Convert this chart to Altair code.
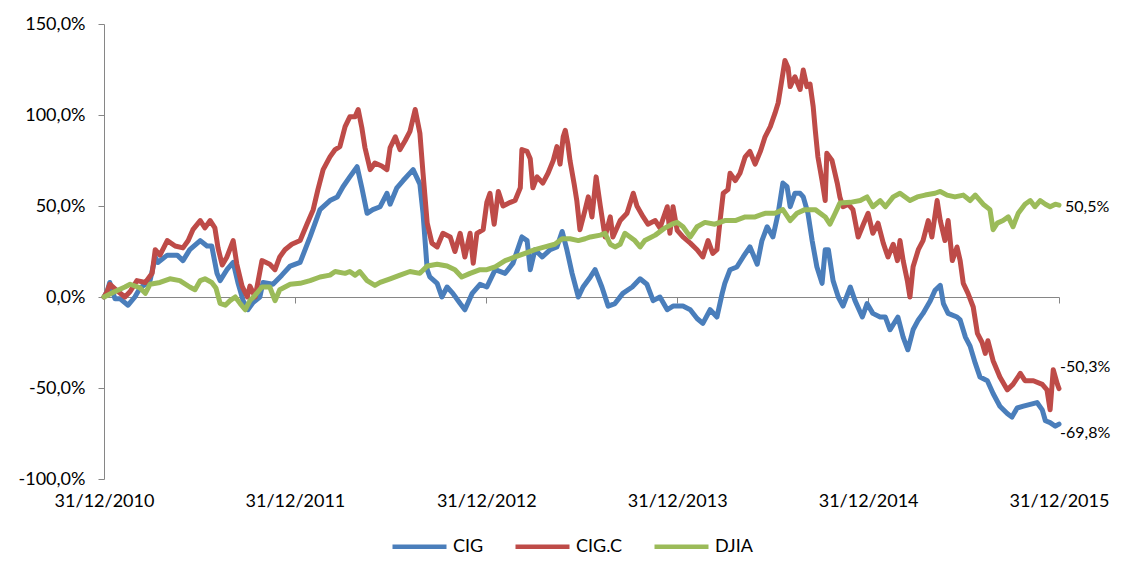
import altair as alt
import pandas as pd

# time = years elapsed since 31/12/2010, value = cumulative return in %
cig_t = [0, .016, .031, .058, .084, .126, .162, .188, .241, .267, .283, .330, .382, .414, .450, .503, .539, .565, .592, .607, .644, .675, .702, .728, .754, .780, .817, .832, .885, .932, .974,
         1.026, 1.079, 1.131, 1.183, 1.220, 1.251, 1.288, 1.325, 1.351, 1.377, 1.408, 1.445, 1.482, 1.497, 1.534, 1.565, 1.618, 1.654, 1.670, 1.691, 1.707, 1.743, 1.770, 1.796, 1.827, 1.864, 1.890, 1.927, 1.969,
         2.005, 2.047, 2.099, 2.141, 2.188, 2.215, 2.230, 2.257, 2.293, 2.335, 2.372, 2.398, 2.424, 2.450, 2.482, 2.508, 2.545, 2.571, 2.607, 2.639, 2.675, 2.717, 2.764, 2.806, 2.843, 2.874, 2.911, 2.948, 2.979,
         3.031, 3.068, 3.105, 3.136, 3.173, 3.209, 3.236, 3.251, 3.277, 3.314, 3.346, 3.382, 3.419, 3.445, 3.471, 3.503, 3.529, 3.555, 3.576, 3.592, 3.618, 3.644, 3.660, 3.686, 3.707, 3.733, 3.759, 3.775, 3.791, 3.817, 3.843, 3.869, 3.906, 3.932, 3.969, 3.995,
         4.026, 4.063, 4.089, 4.115, 4.157, 4.183, 4.209, 4.236, 4.262, 4.288, 4.325, 4.351, 4.377, 4.393, 4.419, 4.466, 4.482, 4.508, 4.534, 4.560, 4.586, 4.623, 4.654, 4.691, 4.728, 4.754, 4.780, 4.812, 4.848, 4.885, 4.911, 4.927, 4.953, 4.979, 5.0]
cig_v = [0, 3, 8, -1, -1, -4.5, 0, 5, 9, 22, 19, 23, 23, 20, 26, 31, 28, 28, 13, 9, 15, 19, 8, -2, -7, -3, 0, 8, 7, 12, 17,
         19, 33, 48, 53, 55, 60.6, 66, 71.6, 60, 46, 48, 49.6, 57, 51, 60, 64, 70, 62, 46, 15, 11, 7.5, 0, 5.5, 2, -3.6, -7, 2, 7,
         5.5, 15, 13, 18.6, 33, 31, 15, 26, 22, 26, 27.5, 36, 26, 13, 0, 5.5, 11, 15, 5.5, -5, -3.6, 2, 5.5, 10, 7, -2, 0, -7, -5,
         -5, -7, -11.8, -14.5, -7, -11, 2, 7.5, 15, 16.5, 22, 27.6, 18, 31, 38.6, 33, 46, 62.6, 60.6, 49.6, 57, 57, 55, 46, 31, 16.6, 7.5, 26, 26, 9, 0, -5, 5.5, -2, -11, -3.6,
         -9, -11, -11, -18, -11, -22, -29, -18, -12.6, -9, -2, 3.7, 6.4, -3.6, -9, -11, -12.6, -22, -27, -36.5, -44, -46, -53, -60, -64, -66, -61, -60, -59, -58, -62, -68, -69, -71, -69.8]

cigc_t = [0, .016, .031, .073, .110, .136, .173, .215, .251, .267, .293, .330, .372, .414, .440, .466, .503, .529, .555, .581, .597, .618, .644, .675, .696, .723, .749, .764, .791, .827, .869, .895, .921, .948, .984,
          1.026, 1.063, 1.094, 1.120, 1.147, 1.183, 1.209, 1.236, 1.262, 1.288, 1.314, 1.330, 1.351, 1.366, 1.393, 1.419, 1.455, 1.482, 1.497, 1.524, 1.550, 1.576, 1.602, 1.628, 1.654, 1.670, 1.691, 1.717, 1.743, 1.775, 1.812, 1.838, 1.864, 1.890, 1.916, 1.932, 1.953, 1.984,
          2.005, 2.021, 2.042, 2.063, 2.089, 2.126, 2.152, 2.178, 2.188, 2.215, 2.230, 2.246, 2.267, 2.298, 2.325, 2.351, 2.372, 2.387, 2.403, 2.414, 2.429, 2.440, 2.461, 2.476, 2.492, 2.518, 2.534, 2.555, 2.576, 2.597, 2.623, 2.649, 2.665, 2.702, 2.738, 2.770, 2.791, 2.822, 2.848, 2.885, 2.911, 2.948, 2.963, 2.979,
          3.0, 3.031, 3.068, 3.105, 3.136, 3.162, 3.188, 3.209, 3.225, 3.241, 3.267, 3.277, 3.304, 3.330, 3.356, 3.382, 3.408, 3.435, 3.461, 3.487, 3.513, 3.529, 3.550, 3.565, 3.581, 3.592, 3.618, 3.644, 3.660, 3.681, 3.696, 3.712, 3.723, 3.738, 3.759, 3.775, 3.785, 3.812, 3.838, 3.853, 3.869, 3.895, 3.921, 3.948, 3.974,
          4.0, 4.026, 4.052, 4.079, 4.105, 4.131, 4.152, 4.168, 4.183, 4.204, 4.220, 4.236, 4.262, 4.288, 4.314, 4.335, 4.361, 4.377, 4.403, 4.419, 4.440, 4.466, 4.482, 4.497, 4.524, 4.550, 4.571, 4.597, 4.613, 4.628, 4.654, 4.691, 4.728, 4.759, 4.796, 4.822, 4.864, 4.911, 4.937, 4.953, 4.969, 4.990, 5.0]
cigc_v = [0, 3, 7, 3, 0, 3, 9, 8, 13, 26, 23, 31, 28, 27, 31, 37, 42, 38, 42, 38, 27, 17.6, 22, 31, 18, 6, 0, 6, 0, 20, 18, 15, 22, 26, 29,
          31, 40, 48, 59, 70, 77, 81, 82.6, 93.6, 99, 99, 103, 93, 82, 70, 73.6, 72, 70, 82, 88, 81, 86, 91, 103, 90, 68, 40.6, 29.6, 27.5, 35, 33, 25, 35, 22, 35, 18.6, 35, 37,
          52, 57, 40, 58, 50, 52, 53, 60, 81, 80, 76, 60, 66, 62.6, 68, 75, 82.6, 73, 88, 91.6, 84, 75, 62, 53, 37, 48, 55, 44, 66, 50, 33, 44, 33, 42, 46, 57, 50, 44, 40, 42, 38, 49.6, 35, 49.6,
          36.6, 33, 29.6, 26, 22, 31, 24, 26, 42, 57, 59, 68, 64, 68, 77, 80, 73, 80, 88, 93.6, 101, 106.6, 121, 130, 126, 115.6, 121, 114, 124.7, 115.6, 117, 104.6, 91.6, 77, 64, 53, 79, 75, 62.6, 55, 49.6, 51, 48, 33, 40,
          46, 35, 40.6, 29.6, 22, 29, 20, 31, 20, 9, 0, 16.6, 26, 31, 42, 33, 53, 42, 31, 42, 20, 27.5, 20, 7.5, 2, -5.5, -20, -25, -31, -24, -35, -44, -51, -48, -42, -46, -46, -48, -51, -62, -40, -48, -50.3]

djia_t = [0, .058, .110, .136, .188, .215, .241, .293, .346, .398, .450, .476, .503, .529, .565, .586, .607, .634, .660, .686, .712, .738, .764, .791, .827, .869, .895, .921, .948, .974,
          1.026, 1.079, 1.131, 1.183, 1.209, 1.262, 1.288, 1.314, 1.340, 1.377, 1.419, 1.445, 1.497, 1.550, 1.602, 1.654, 1.691, 1.743, 1.796, 1.838, 1.874, 1.916, 1.969,
          2.005, 2.047, 2.099, 2.152, 2.204, 2.257, 2.309, 2.361, 2.398, 2.440, 2.482, 2.518, 2.545, 2.597, 2.623, 2.649, 2.675, 2.702, 2.728, 2.780, 2.806, 2.832, 2.885, 2.937, 2.974,
          3.0, 3.031, 3.068, 3.105, 3.147, 3.199, 3.251, 3.304, 3.356, 3.408, 3.461, 3.513, 3.555, 3.592, 3.628, 3.670, 3.723, 3.775, 3.801, 3.827, 3.853, 3.906, 3.958, 3.995,
          4.026, 4.063, 4.089, 4.131, 4.168, 4.220, 4.257, 4.298, 4.351, 4.377, 4.414, 4.455, 4.497, 4.534, 4.560, 4.602, 4.639, 4.654, 4.675, 4.707, 4.733, 4.759, 4.785, 4.822, 4.848, 4.874, 4.901, 4.927, 4.953, 4.979, 5.0]
djia_v = [0, 3, 5.5, 7, 5, 2, 7, 8, 10, 9, 5.5, 4, 9, 10, 8, 5, -3.5, -4.5, -2, 0, -3.5, -7, -2, 1, 5.5, 5.5, -2, 4, 5.5, 7,
          7.5, 9, 11, 12, 14, 13, 14, 12, 14, 9, 6.4, 8, 10, 12, 14, 13, 17, 18, 17, 15, 11, 13, 15,
          15, 16.6, 20, 22, 24, 26, 27.5, 29, 32, 32, 31, 32, 33, 34, 35, 29, 27.5, 29, 35, 31, 27.5, 31, 34, 38, 40,
          41, 38.6, 33, 38.6, 41, 40, 42, 42, 44, 44, 46, 46, 48, 42, 46, 48, 48, 44, 40, 46, 51.6, 52, 53, 55,
          49.6, 53, 49.6, 55, 57, 53, 55, 56, 57, 58, 56, 55, 56, 53, 56, 51, 48, 37, 40.6, 42, 44, 38.6, 46, 51, 53, 49.6, 53, 51, 49.6, 51, 50.5]

series_names = ["CIG", "CIG.C", "DJIA"]
series_colors = ["#4a7ebb", "#be4b48", "#9bbb59"]
y_ticks = [-100, -50, 0, 50, 100, 150]
x_tick_years = [2010, 2011, 2012, 2013, 2014, 2015]

start = pd.Timestamp("2010-12-31")


def frame(name, t, v):
    return pd.DataFrame({
        "date": [start + pd.Timedelta(days=round(x * 365.25)) for x in t],
        "value": v,
        "series": name,
    })


df = pd.concat([frame("CIG", cig_t, cig_v),
                frame("CIG.C", cigc_t, cigc_v),
                frame("DJIA", djia_t, djia_v)], ignore_index=True)
last = df.groupby("series", as_index=False).last()

FONT = "Lato"
GRAY = "#868686"
pct_expr = "(datum.value < 0 ? '-' : '') + replace(format(abs(datum.value), '.1f'), '.', ',') + '%'"

x_enc = alt.X(
    "date:T",
    scale=alt.Scale(domain=[alt.DateTime(year=2010, month=12, date=31),
                            alt.DateTime(year=2015, month=12, date=31)]),
    axis=alt.Axis(
        title=None,
        values=[alt.DateTime(year=y, month=12, date=31) for y in x_tick_years],
        format="%d/%m/%Y",
        offset=-182,
        tickSize=6,
        labelPadding=189,
        grid=False,
        domainColor=GRAY, tickColor=GRAY,
        labelFont=FONT, labelFontSize=18, labelColor="black",
        labelFlush=False, labelOverlap=False,
    ),
)
y_enc = alt.Y(
    "value:Q",
    scale=alt.Scale(domain=[-100, 150], nice=False, zero=False),
    axis=alt.Axis(
        title=None, values=y_ticks, labelExpr=pct_expr, grid=False,
        tickSize=6, labelPadding=13,
        domainColor=GRAY, tickColor=GRAY,
        labelFont=FONT, labelFontSize=18, labelColor="black",
    ),
)

lines = alt.Chart(df).mark_line(strokeWidth=5, strokeJoin="round", strokeCap="round").encode(
    x=x_enc,
    y=y_enc,
    color=alt.Color(
        "series:N",
        scale=alt.Scale(domain=series_names, range=series_colors),
        legend=alt.Legend(
            title=None, orient="none", legendX=286, legendY=493, direction="horizontal",
            symbolType="stroke", symbolSize=2916, symbolStrokeWidth=4.5,
            labelFont=FONT, labelFontSize=18, labelColor="black",
            labelOffset=4, columnPadding=22,
        ),
    ),
)

label_base = alt.Chart(last).transform_calculate(label=pct_expr)
offsets = {"CIG": (1, 9), "CIG.C": (1, -22), "DJIA": (6, 2)}
labels = []
for name in series_names:
    dx, dy = offsets[name]
    labels.append(
        label_base.transform_filter(alt.datum.series == name)
        .mark_text(align="left", baseline="middle", dx=dx, dy=dy, font=FONT, fontSize=16, color="black")
        .encode(x="date:T", y="value:Q", text="label:N")
    )

chart = alt.layer(lines, *labels).properties(
    width=955, height=455,
    padding={"left": 96, "top": 16, "right": 55, "bottom": 80},
    autosize=alt.AutoSizeParams(type="none"),
).configure_view(stroke=None)

chart.save("out.html", embed_options={"renderer": "svg", "actions": False})
